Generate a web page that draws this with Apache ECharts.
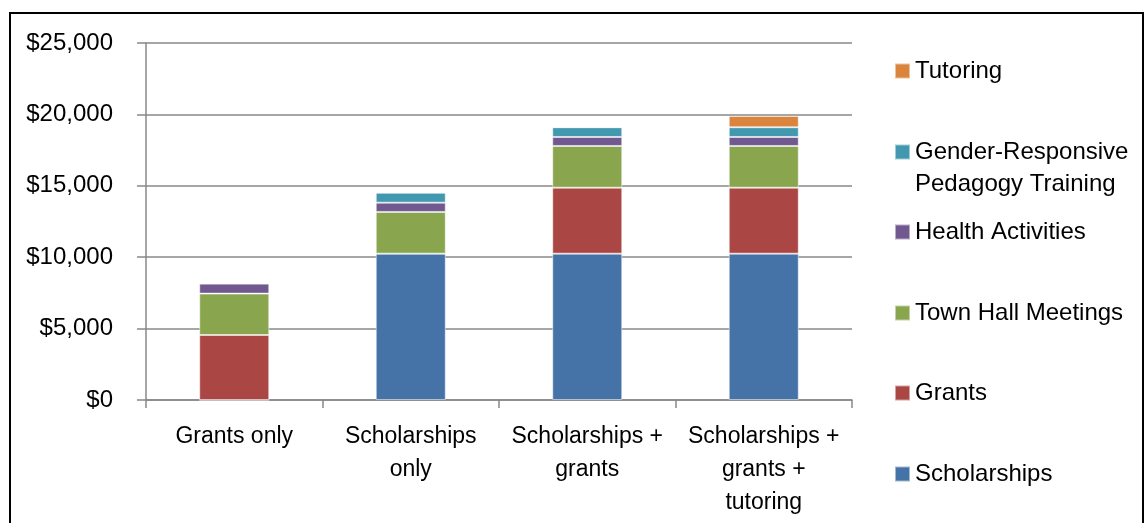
<!DOCTYPE html>
<html>
<head>
<meta charset="utf-8">
<script src="https://cdn.jsdelivr.net/npm/echarts@6/dist/echarts.min.js"></script>
<style>
  html, body { margin: 0; padding: 0; background: #fff; }
</style>
</head>
<body>
<div id="main" style="width: 1144px; height: 523px;"></div>
<script>
// categories along the x axis
const categories = ['Grants only', 'Scholarships\nonly', 'Scholarships +\ngrants', 'Scholarships +\ngrants +\ntutoring'];

// stacked cost components (USD)
const scholarships = [0, 10250, 10250, 10250];
const grants = [4550, 0, 4620, 4620];
const townHall = [2900, 2920, 2920, 2920];
const health = [700, 650, 630, 630];
const grpTraining = [0, 700, 680, 680];
const tutoring = [0, 0, 0, 790];

const seriesNames = ['Scholarships', 'Grants', 'Town Hall Meetings', 'Health Activities', 'Gender-Responsive Pedagogy Training', 'Tutoring'];
const seriesValues = [scholarships, grants, townHall, health, grpTraining, tutoring];
const colors = ['#4572A7', '#AA4643', '#89A54E', '#71588F', '#4198AF', '#DB843D'];

// legend runs top-down in reverse stack order (icon centre y)
const legendCenters = [474, 393, 313, 232, 152, 71];

const chart = echarts.init(document.getElementById('main'));
const gray = '#888';
const font = "'Liberation Sans', Arial, sans-serif";

const legends = seriesNames.map((name, i) => {
  const twoLine = name.indexOf('Gender') === 0;
  return {
    data: [name],
    left: 889,
    top: twoLine ? legendCenters[i] - 53 : legendCenters[i] - 21,
    orient: 'vertical',
    itemWidth: 15,
    itemHeight: 15,
    icon: 'rect',
    selectedMode: false,
    // blank first line keeps the icon level with "Gender-Responsive"
    formatter: (n) => n === 'Gender-Responsive Pedagogy Training' ? '\nGender-Responsive\nPedagogy Training' : n,
    textStyle: {
      fontFamily: font,
      fontSize: 24,
      color: '#000',
      lineHeight: 32
    }
  };
});

const option = {
  animation: false,
  color: colors,
  grid: { left: 146, right: 292, top: 43, bottom: 123 },
  legend: legends,
  graphic: [{
    type: 'rect',
    shape: { x: 10, y: 13, width: 1133, height: 530 },
    style: { fill: 'none', stroke: '#000', lineWidth: 2 },
    silent: true
  }],
  xAxis: {
    type: 'category',
    data: categories,
    axisLine: { lineStyle: { color: gray, width: 1.5 } },
    axisTick: { show: true, length: 8, lineStyle: { color: gray, width: 1.5 } },
    axisLabel: {
      interval: 0,
      margin: 20,
      color: '#000',
      fontFamily: font,
      fontSize: 23,
      lineHeight: 33
    }
  },
  yAxis: {
    type: 'value',
    min: 0,
    max: 25000,
    interval: 5000,
    axisLine: { show: true, lineStyle: { color: gray, width: 1.5 } },
    axisTick: { show: true, length: 9, lineStyle: { color: gray, width: 1.5 } },
    splitLine: { lineStyle: { color: gray, width: 1.5 } },
    axisLabel: {
      margin: 33,
      color: '#000',
      fontFamily: font,
      fontSize: 24,
      formatter: (v) => '$' + v.toLocaleString('en-US')
    }
  },
  series: seriesNames.map((name, i) => ({
    name: name,
    type: 'bar',
    stack: 'total',
    barWidth: 70,
    itemStyle: { color: colors[i], borderColor: 'rgba(255,255,255,0.5)', borderWidth: 1 },
    data: seriesValues[i]
  }))
};

chart.setOption(option);
</script>
</body>
</html>
